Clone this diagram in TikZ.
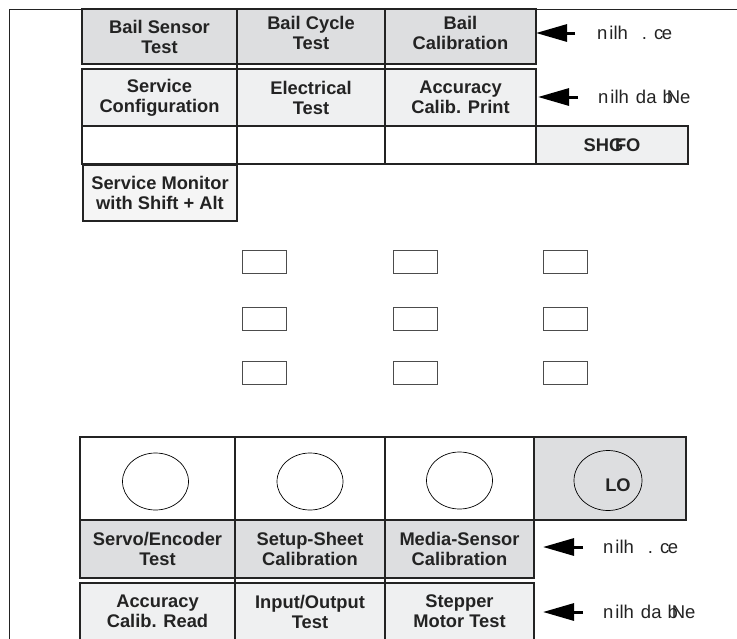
\documentclass[tikz,border=0pt]{standalone}
\usepackage{fontspec}
\setmainfont{Liberation Sans}
\usetikzlibrary{shapes.geometric,arrows.meta,positioning,calc}
\definecolor{keydark}{RGB}{221,222,224}
\definecolor{keylight}{RGB}{239,240,241}
\definecolor{keypale}{RGB}{245,245,245}
\definecolor{ink}{RGB}{35,35,35}

\begin{document}
\begin{tikzpicture}[x=1pt, y=-1pt,
  keytext/.style={align=center, font=\fontsize{18.3}{20}\selectfont\bfseries, text=ink},
  cell/.style={draw=ink, line width=1.1pt, inner sep=0pt, outer sep=0pt, keytext},
  led/.style={draw=black!70, line width=0.9pt, minimum width=44pt, minimum height=23pt, inner sep=0pt},
  knob/.style={ellipse, draw=black, line width=0.7pt, minimum width=66pt, minimum height=57pt, inner sep=0pt},
  pointer/.style={-{Triangle[length=31pt,width=17pt]}, line width=3pt, black},
  tag/.style={anchor=west, inner sep=0pt, font=\fontsize{18.5}{20}\selectfont, text=ink}]
  \clip (0,0) rectangle (737,638);
  % outer frame
  \draw[ink, line width=0.9pt] (9,660) -- (9,9) -- (760,9);
  % row 1: bail tests
  \node[cell, fill=keydark, minimum width=155pt, minimum height=55pt] (bailsens) at (159.5,36.5) {Bail Sensor\\Test};
  \node[cell, fill=keydark, minimum width=148pt, minimum height=55pt,
    label={[keytext, yshift=4pt]center:Bail Cycle\\Test}] (bailcyc) at (311,36.5) {};
  \node[cell, fill=keydark, minimum width=151pt, minimum height=55pt,
    label={[keytext, yshift=4pt]center:Bail\\Calibration}] (bailcal) at (460.5,36.5) {};
  % row 2: service keys
  \node[cell, fill=keylight, minimum width=155pt, minimum height=57pt] (servconf) at (159.5,97.5) {Service\\Configuration};
  \node[cell, fill=keylight, minimum width=148pt, minimum height=57pt] (elec) at (311,97.5) {Electrical\\Test};
  \node[cell, fill=keylight, minimum width=151pt, minimum height=57pt] (accprint) at (460.5,97.5) {Accuracy\\Calib. Print};
  \draw[ink, line width=1.1pt] (bailsens.south east) -- (servconf.north east);
  \draw[ink, line width=1.1pt] (bailcyc.south east) -- (elec.north east);
  % row 3: blank keys + shift
  \node[cell, fill=white, minimum width=155pt, minimum height=38pt] (blanka) at (159.5,145) {};
  \node[cell, fill=white, minimum width=148pt, minimum height=38pt] (blankb) at (311,145) {};
  \node[cell, fill=white, minimum width=151pt, minimum height=38pt] (blankc) at (460.5,145) {};
  \node[cell, fill=keylight, minimum width=152pt, minimum height=38pt] (shgfo) at (612,145) {SHG\kern-0.45em FO};
  % row 4: monitor
  \node[cell, fill=keypale, minimum width=154pt, minimum height=56pt] (monitor) at (160,193) {Service Monitor\\with Shift + Alt};
  % indicator lamps
  \foreach \cx/\ci in {264/a, 415/b, 565/c} {
    \foreach \cy/\cj in {261.5/1, 318.5/2, 372.5/3} {
      \node[led] (led\ci\cj) at (\cx,\cy) {};
    }
  }
  % knob row
  \node[cell, fill=white, minimum width=155pt, minimum height=83pt] (knoba) at (157.5,478.5) {};
  \node[cell, fill=white, minimum width=150pt, minimum height=83pt] (knobb) at (310,478.5) {};
  \node[cell, fill=white, minimum width=149pt, minimum height=83pt] (knobc) at (459.5,478.5) {};
  \node[cell, fill=keydark, minimum width=152pt, minimum height=83pt] (knobd) at (610,478.5) {};
  \node[knob] (dial1) at ($(knoba)+(-2,3)$) {};
  \node[knob] (dial2) at ($(knobb)+(0,3)$) {};
  \node[knob] (dial3) at ($(knobc)+(0,2)$) {};
  \node[knob, minimum width=68pt, minimum height=60pt] (dial4) at ($(knobd)+(-2,2)$) {};
  \node[keytext, inner sep=0pt] (lo) at ($(dial4)+(10,5)$) {LO};
  % row 5: servo / sensor
  \node[cell, fill=keydark, minimum width=155pt, minimum height=58pt] (servo) at (157.5,549) {Servo/Encoder\\Test};
  \node[cell, fill=keydark, minimum width=150pt, minimum height=58pt] (setup) at (310,549) {Setup-Sheet\\Calibration};
  \node[cell, fill=keydark, minimum width=149pt, minimum height=58pt] (media) at (459.5,549) {Media-Sensor\\Calibration};
  % row 6: accuracy / io / stepper
  \node[cell, fill=keylight, minimum width=155pt, minimum height=57pt] (accread) at (157.5,611.5) {Accuracy\\Calib. Read};
  \node[cell, fill=keylight, minimum width=150pt, minimum height=57pt] (inout) at (310,611.5) {Input/Output\\Test};
  \node[cell, fill=keylight, minimum width=149pt, minimum height=57pt] (stepper) at (459.5,611.5) {Stepper\\Motor Test};
  \draw[ink, line width=1.1pt] (servo.south east) -- (accread.north east);
  \draw[ink, line width=1.1pt] (setup.south east) -- (inout.north east);
  % pointers
  \node[tag] (tagbail) at (597,33) {n\kern2pt ilh\hspace{14pt}.\hspace{7pt}c\kern-1.5pt e};
  \node[tag] (tagserv) at (598,97) {n\kern2pt ilh\hspace{7pt}da\hspace{6pt}b\kern-6pt Ne};
  \node[tag] (tagmedia) at (603,547) {n\kern2pt ilh\hspace{14pt}.\hspace{7pt}c\kern-1.5pt e};
  \node[tag] (tagstep) at (603,612) {n\kern2pt ilh\hspace{7pt}da\hspace{6pt}b\kern-6pt Ne};
  \draw[pointer, shorten <=22pt] (tagbail.west) -- (tagbail.west -| bailcal.east);
  \draw[pointer, shorten <=20pt, shorten >=2pt] (tagserv.west) -- (tagserv.west -| accprint.east);
  \draw[pointer, shorten <=20pt, shorten >=9pt] (tagmedia.west) -- (tagmedia.west -| media.east);
  \draw[pointer, shorten <=20pt, shorten >=9pt] (tagstep.west) -- (tagstep.west -| stepper.east);
\end{tikzpicture}
\end{document}
